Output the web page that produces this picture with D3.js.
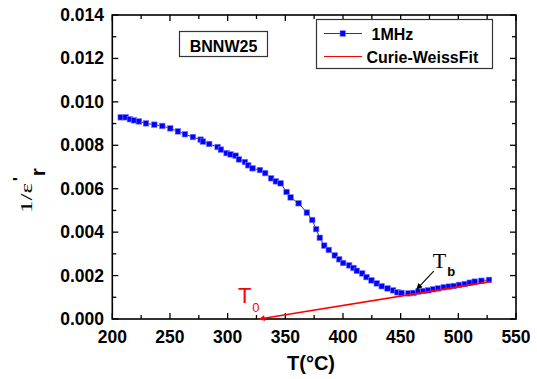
<!DOCTYPE html>
<html>
<head>
<meta charset="utf-8">
<script src="https://cdn.jsdelivr.net/npm/d3@7"></script>
<style>
  body { margin: 0; background: #fff; }
  svg { display: block; }
  text { font-family: "Liberation Sans", Arial, sans-serif; }
</style>
</head>
<body>
<svg class="chart" width="537" height="379"></svg>
<script>
// datos (1MHz)
var temps = [207.3, 211.6, 215.3, 218.8, 223.1, 229.2, 236.4, 243.3, 250.2, 256.9,
  263.0, 269.9, 276.6, 278.6, 284.0, 291.3, 294.2, 299.1, 302.6, 306.9,
  309.8, 315.0, 317.8, 321.6, 328.0, 332.5, 337.7, 341.8, 345.9, 351.1,
  354.6, 361.5, 368.7, 373.3, 376.7, 379.9, 383.7, 387.7, 392.9, 396.7,
  400.1, 405.3, 409.1, 412.0, 416.6, 420.4, 424.7, 429.3, 433.6, 438.6,
  443.4, 447.2, 450.7, 456.8, 461.1, 465.4, 469.8, 474.1, 478.1, 482.4,
  487.4, 491.7, 496.0, 500.6, 505.6, 509.9, 514.2, 520.0, 526.6];
var invEps = [0.00929, 0.00929, 0.00920, 0.00915, 0.00910, 0.00901, 0.00895, 0.00889, 0.00878, 0.00864,
  0.00851, 0.00838, 0.00826, 0.00817, 0.00806, 0.00792, 0.00780, 0.00764, 0.00758, 0.00752,
  0.00735, 0.00723, 0.00708, 0.00694, 0.00686, 0.00672, 0.00648, 0.00634, 0.00625, 0.00585,
  0.00560, 0.00533, 0.00490, 0.00456, 0.00414, 0.00374, 0.00338, 0.00318, 0.00293, 0.00275,
  0.00258, 0.00247, 0.00235, 0.00222, 0.00210, 0.00193, 0.00178, 0.00164, 0.00151, 0.00141,
  0.00132, 0.00123, 0.00120, 0.00118, 0.00120, 0.00126, 0.00129, 0.00132, 0.00137, 0.00141,
  0.00146, 0.00149, 0.00152, 0.00157, 0.00161, 0.00167, 0.00172, 0.00176, 0.00180];

// ajuste Curie-Weiss
var fitT = [327.4, 527.8];
var fitV = [0.0, 0.00172];

var xTicks = [200, 250, 300, 350, 400, 450, 500, 550];
var yTicks = [0.000, 0.002, 0.004, 0.006, 0.008, 0.010, 0.012, 0.014];

var data = temps.map((t, i) => ({t: t, v: invEps[i]}));
var fit = fitT.map((t, i) => ({t: t, v: fitV[i]}));

var x = d3.scaleLinear().domain([200, 550]).range([112.3, 516]);
var y = d3.scaleLinear().domain([0, 0.014]).range([319, 15]);

var canvas = d3.select(".chart");
var serif = '"Liberation Serif", "Times New Roman", serif';

var defs = canvas.append("defs");
defs.append("marker").attr("id", "redArrow")
  .attr("viewBox", "0 0 10 10").attr("refX", 9).attr("refY", 5)
  .attr("markerWidth", 9).attr("markerHeight", 6).attr("markerUnits", "userSpaceOnUse")
  .attr("orient", "auto-start-reverse")
  .append("path").attr("d", "M0,0 L10,5 L0,10 z").attr("fill", "red");
defs.append("marker").attr("id", "blackArrow")
  .attr("viewBox", "0 0 10 10").attr("refX", 9).attr("refY", 5)
  .attr("markerWidth", 8).attr("markerHeight", 6).attr("markerUnits", "userSpaceOnUse")
  .attr("orient", "auto")
  .append("path").attr("d", "M0,0 L10,5 L0,10 z").attr("fill", "black");

// ejes (4 lados, ticks hacia dentro)
var x0 = x.range()[0], x1 = x.range()[1], y0 = y.range()[0], y1 = y.range()[1];
var xMinor = d3.range(225, 550, 50), yMinor = d3.range(0.001, 0.014, 0.002);

var axes = canvas.append("g").attr("stroke", "black").attr("stroke-width", 1.3);
xTicks.forEach(t => {
  axes.append("line").attr("x1", x(t)).attr("x2", x(t)).attr("y1", y0).attr("y2", y0 - 6);
  axes.append("line").attr("x1", x(t)).attr("x2", x(t)).attr("y1", y1).attr("y2", y1 + 6);
});
xMinor.forEach(t => {
  axes.append("line").attr("x1", x(t)).attr("x2", x(t)).attr("y1", y0).attr("y2", y0 - 4);
  axes.append("line").attr("x1", x(t)).attr("x2", x(t)).attr("y1", y1).attr("y2", y1 + 4);
});
yTicks.forEach(v => {
  axes.append("line").attr("x1", x0).attr("x2", x0 + 6).attr("y1", y(v)).attr("y2", y(v));
  axes.append("line").attr("x1", x1).attr("x2", x1 - 6).attr("y1", y(v)).attr("y2", y(v));
});
yMinor.forEach(v => {
  axes.append("line").attr("x1", x0).attr("x2", x0 + 4).attr("y1", y(v)).attr("y2", y(v));
  axes.append("line").attr("x1", x1).attr("x2", x1 - 4).attr("y1", y(v)).attr("y2", y(v));
});
axes.append("rect").attr("x", x0).attr("y", y1).attr("width", x1 - x0).attr("height", y0 - y1)
  .attr("fill", "none").attr("stroke-width", 1.6);

canvas.selectAll(".xl").data(xTicks).enter().append("text")
  .attr("x", d => x(d)).attr("y", 343).attr("text-anchor", "middle")
  .attr("font-size", 17.5).attr("font-weight", "bold").text(d => d);
canvas.selectAll(".yl").data(yTicks).enter().append("text")
  .attr("x", 104).attr("y", d => y(d) + 6).attr("text-anchor", "end")
  .attr("font-size", 17.5).attr("font-weight", "bold").text(d => d.toFixed(3));

canvas.append("text").attr("x", 311).attr("y", 370).attr("text-anchor", "middle")
  .attr("font-size", 20).attr("font-weight", "bold").text("T(°C)");

// titulo eje y: 1/ε'r
var yt = canvas.append("text").attr("transform", "translate(32,213) rotate(-90)");
yt.append("tspan").attr("font-family", serif).attr("font-size", 16)
  .attr("textLength", 30).attr("lengthAdjust", "spacingAndGlyphs").text("1/ε");
yt.append("tspan").attr("font-size", 16).attr("font-weight", "bold").attr("dy", -7).attr("dx", 2).text("'");
yt.append("tspan").attr("font-size", 21).attr("font-weight", "bold").attr("dy", 20).attr("dx", 1).text("r");

// curva 1MHz
canvas.append("path").datum(data)
  .attr("d", d3.line().x(d => x(d.t)).y(d => y(d.v)))
  .attr("fill", "none").attr("stroke", "#222").attr("stroke-width", 0.9);
canvas.selectAll("rect.pt").data(data).enter().append("rect").attr("class", "pt")
  .attr("x", d => x(d.t) - 2.8).attr("y", d => y(d.v) - 2.8)
  .attr("width", 5.6).attr("height", 5.6)
  .attr("fill", "#0000ff").attr("stroke", "#8080ff").attr("stroke-width", 0.6);

// ajuste
canvas.append("path").datum(fit)
  .attr("d", d3.line().x(d => x(d.t)).y(d => y(d.v)))
  .attr("fill", "none").attr("stroke", "red").attr("stroke-width", 1.6)
  .attr("marker-start", "url(#redArrow)");

// anotaciones
var t0 = canvas.append("text").attr("x", x(308.9)).attr("y", y(0.000737))
  .attr("fill", "red").attr("font-family", serif);
t0.append("tspan").attr("font-size", 22).text("T");
t0.append("tspan").attr("font-size", 13).attr("dy", 9).attr("dx", 1).text("0");

var tb = canvas.append("text").attr("x", x(477.8)).attr("y", y(0.00235));
tb.append("tspan").attr("font-family", serif).attr("font-size", 22).text("T");
tb.append("tspan").attr("font-size", 13).attr("font-weight", "bold").attr("dy", 8).attr("dx", 1).text("b");
canvas.append("line")
  .attr("x1", x(478.7)).attr("y1", y(0.00221)).attr("x2", x(464.0)).attr("y2", y(0.00138))
  .attr("stroke", "black").attr("stroke-width", 1.1).attr("marker-end", "url(#blackArrow)");

// caja BNNW25
canvas.append("rect").attr("x", 179.5).attr("y", 31.5).attr("width", 88).attr("height", 25)
  .attr("fill", "none").attr("stroke", "#333").attr("stroke-width", 1.2);
canvas.append("text").attr("x", 223.5).attr("y", 52).attr("text-anchor", "middle")
  .attr("font-size", 16).attr("font-weight", "bold").text("BNNW25");

// leyenda
canvas.append("rect").attr("x", 316.5).attr("y", 19.5).attr("width", 176).attr("height", 49)
  .attr("fill", "white").attr("stroke", "#333").attr("stroke-width", 1.2);
canvas.append("line").attr("x1", 324).attr("x2", 362).attr("y1", 33.5).attr("y2", 33.5)
  .attr("stroke", "#222").attr("stroke-width", 0.9);
canvas.append("rect").attr("x", 340).attr("y", 30.7).attr("width", 5.6).attr("height", 5.6)
  .attr("fill", "#0000ff").attr("stroke", "#8080ff").attr("stroke-width", 0.6);
canvas.append("text").attr("x", 371.5).attr("y", 39.5)
  .attr("font-size", 16).attr("font-weight", "bold").text("1MHz");
canvas.append("line").attr("x1", 324).attr("x2", 362).attr("y1", 56.5).attr("y2", 56.5)
  .attr("stroke", "red").attr("stroke-width", 1.2);
canvas.append("text").attr("x", 366.5).attr("y", 63)
  .attr("font-size", 16).attr("font-weight", "bold").text("Curie-WeissFit");
</script>
</body>
</html>
